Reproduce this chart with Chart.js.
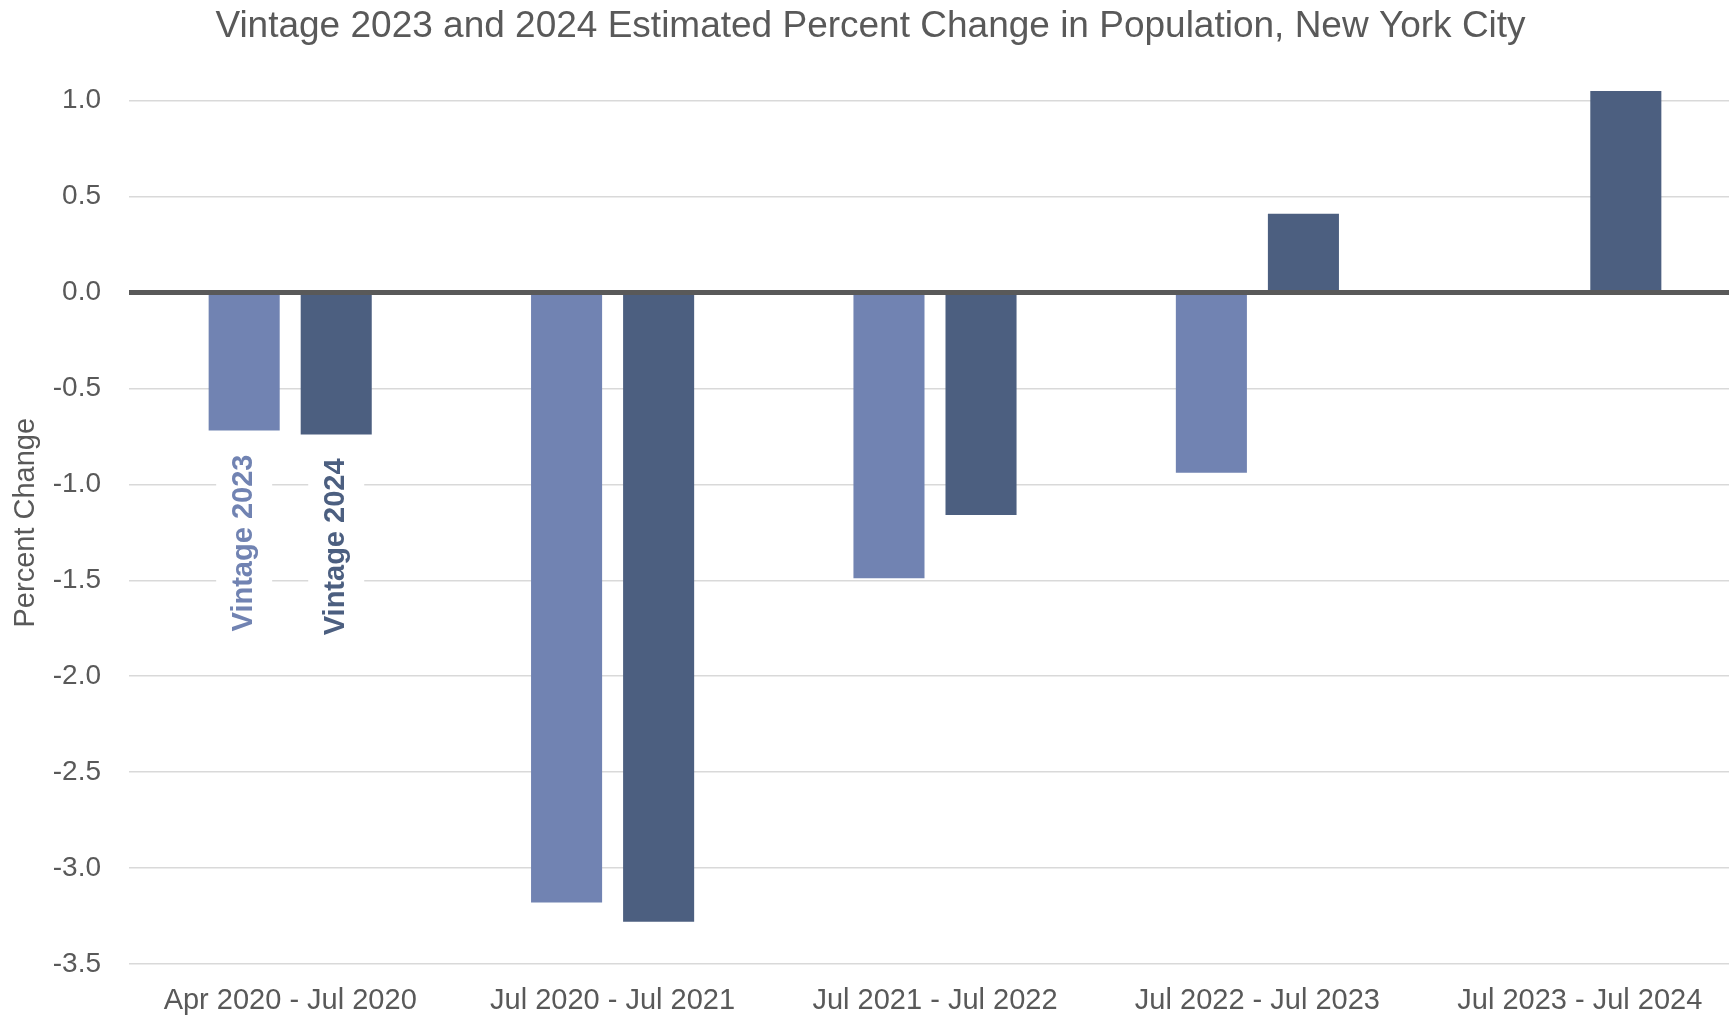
<!DOCTYPE html>
<html>
<head>
<meta charset="utf-8">
<script src="https://cdn.jsdelivr.net/npm/chart.js@4/dist/chart.umd.min.js"></script>
<style>
  html, body { margin: 0; padding: 0; background: #fff; overflow: hidden; }
</style>
</head>
<body>
<canvas id="chart" width="1743" height="1018"></canvas>
<script>
const periods = ['Apr 2020 - Jul 2020', 'Jul 2020 - Jul 2021', 'Jul 2021 - Jul 2022', 'Jul 2022 - Jul 2023', 'Jul 2023 - Jul 2024'];
const vintage2023 = [-0.72, -3.18, -1.49, -0.94, null];
const vintage2024 = [-0.74, -3.28, -1.16, 0.41, 1.05];
const seriesNames = ['Vintage 2023', 'Vintage 2024'];
const seriesColors = ['#7183b2', '#4c5f80'];

const FONT = "'Liberation Sans', Arial, sans-serif";
const GREY = '#595959';

// zero line over the bars, plus the rotated series names under the first pair
const annotations = {
  id: 'annotations',
  afterDatasetsDraw(chart) {
    const { ctx, chartArea, scales } = chart;
    const y0 = scales.y.getPixelForValue(0);
    ctx.save();
    ctx.strokeStyle = GREY;
    ctx.lineWidth = 5;
    ctx.beginPath();
    ctx.moveTo(chartArea.left, y0);
    ctx.lineTo(chartArea.right, y0);
    ctx.stroke();

    ctx.font = 'bold 29px ' + FONT;
    chart.data.datasets.forEach((ds, i) => {
      const bar = chart.getDatasetMeta(i).data[0];
      const w = ctx.measureText(ds.label).width;
      const top = bar.y + 24;
      ctx.fillStyle = '#fff';
      ctx.fillRect(bar.x - 28, top - 4, 56, w + 8);
      ctx.save();
      ctx.translate(bar.x, top);
      ctx.rotate(-Math.PI / 2);
      ctx.fillStyle = ds.backgroundColor;
      ctx.textAlign = 'right';
      ctx.textBaseline = 'middle';
      ctx.fillText(ds.label, 0, 0);
      ctx.restore();
    });
    ctx.restore();
  }
};

new Chart(document.getElementById('chart'), {
  type: 'bar',
  plugins: [annotations],
  data: {
    labels: periods,
    datasets: [
      {
        label: seriesNames[0],
        data: vintage2023,
        backgroundColor: seriesColors[0],
        barPercentage: 0.772,
        categoryPercentage: 0.571
      },
      {
        label: seriesNames[1],
        data: vintage2024,
        backgroundColor: seriesColors[1],
        barPercentage: 0.772,
        categoryPercentage: 0.571
      }
    ]
  },
  options: {
    responsive: false,
    animation: false,
    layout: { padding: { left: 0, right: 2, top: 0, bottom: 0 } },
    plugins: {
      legend: { display: false },
      tooltip: { enabled: false },
      title: {
        display: true,
        text: 'Vintage 2023 and 2024 Estimated Percent Change in Population, New York City',
        color: GREY,
        font: { family: FONT, size: 37, weight: 'normal' },
        padding: { top: 5, bottom: 32 }
      }
    },
    scales: {
      x: {
        grid: { display: false, drawTicks: false },
        border: { display: false },
        ticks: {
          color: GREY,
          font: { family: FONT, size: 29 },
          padding: 20,
          maxRotation: 0
        },
        afterFit: scale => { scale.height = 54; }
      },
      y: {
        min: -3.5,
        max: 1.1,
        grid: { color: '#d9d9d9', lineWidth: 1.5, drawTicks: false },
        border: { display: false },
        ticks: {
          stepSize: 0.5,
          includeBounds: false,
          color: GREY,
          font: { family: FONT, size: 28 },
          padding: 28,
          callback: v => v.toFixed(1)
        },
        title: {
          display: true,
          text: 'Percent Change',
          color: GREY,
          font: { family: FONT, size: 29 },
          padding: { top: 9, bottom: 0 }
        },
        afterFit: scale => { scale.width = 129; }
      }
    }
  }
});
</script>
</body>
</html>
